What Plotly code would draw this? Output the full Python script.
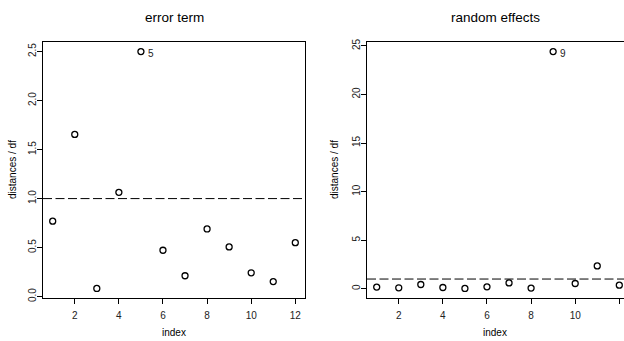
import plotly.graph_objects as go

# Scaled distances per observation index
index = list(range(1, 13))
error_term = [0.77, 1.655, 0.083, 1.064, 2.50, 0.473, 0.213, 0.69, 0.507, 0.243, 0.153, 0.55]
random_effects = [0.17, 0.10, 0.44, 0.13, 0.03, 0.20, 0.60, 0.07, 24.42, 0.54, 2.35, 0.37]
cutoff = 1.0
left_yticks = [0.0, 0.5, 1.0, 1.5, 2.0, 2.5]
right_yticks = [0, 5, 10, 15, 20, 25]
xticks = [2, 4, 6, 8, 10, 12]

W, H = 624, 341
FONT = "Liberation Sans, Arial, Helvetica, sans-serif"


def padded(vals, frac=0.04):
    lo, hi = min(vals), max(vals)
    d = (hi - lo) * frac
    return [lo - d, hi + d]


xr = padded(index)
# pixel boxes of the two panels
left_box = (43, 305)
right_box_left = 367
px_per_unit = (left_box[1] - left_box[0]) / (xr[1] - xr[0])
right_x_hi = xr[0] + (W - right_box_left) / px_per_unit

y_dom = [1 - 301 / H, 1 - 39 / H]

fig = go.Figure()

marker = dict(symbol="circle-open", size=6, color="black", line=dict(width=1.3, color="black"))

fig.add_trace(go.Scatter(x=index, y=error_term, mode="markers", marker=marker,
                         xaxis="x", yaxis="y", showlegend=False, hoverinfo="x+y"))
fig.add_trace(go.Scatter(x=index, y=random_effects, mode="markers", marker=marker,
                         xaxis="x2", yaxis="y2", showlegend=False, hoverinfo="x+y"))

# dashed reference lines at the cutoff
for xref, yref, x1 in (("x", "y", xr[1]), ("x2", "y2", right_x_hi)):
    fig.add_shape(type="line", xref=xref, yref=yref, x0=xr[0], x1=x1, y0=cutoff, y1=cutoff,
                  line=dict(color="black", width=1, dash="9px,3.5px"), layer="below")

axis_common = dict(showgrid=False, zeroline=False, showline=True, linecolor="black", linewidth=1,
                   ticks="outside", ticklen=5, tickwidth=1, tickcolor="black",
                   tickfont=dict(family=FONT, size=10, color="#222"))

fig.update_layout(
    width=W, height=H,
    margin=dict(l=0, r=0, t=0, b=0),
    paper_bgcolor="white", plot_bgcolor="white",
    font=dict(family=FONT, color="black"),
    xaxis=dict(domain=[left_box[0] / W, left_box[1] / W], range=xr, anchor="y",
               tickvals=xticks, mirror=True, ticklabelstandoff=3, **axis_common),
    yaxis=dict(domain=y_dom, range=padded(error_term), anchor="x",
               tickvals=left_yticks, tickformat=".1f", tickangle=-90, mirror=True,
               ticklabelstandoff=-3, **axis_common),
    xaxis2=dict(domain=[right_box_left / W, 1.0], range=[xr[0], right_x_hi], anchor="y2",
                tickvals=xticks, mirror=True, ticklabelstandoff=3, **axis_common),
    yaxis2=dict(domain=y_dom, range=padded(random_effects), anchor="x2",
                tickvals=right_yticks, tickangle=-90, mirror=False,
                ticklabelstandoff=-3, **axis_common),
)

# labels for the largest distance in each panel
for xa, ya, vals in (("x", "y", error_term), ("x2", "y2", random_effects)):
    k = max(range(len(vals)), key=lambda i: vals[i])
    fig.add_annotation(x=index[k], y=vals[k], xref=xa, yref=ya, text=str(index[k]),
                       showarrow=False, xanchor="left", yanchor="middle", xshift=5, yshift=-2,
                       font=dict(family=FONT, size=10, color="#222"))

# panel titles and axis titles
def text(x, y, s, size, angle=0):
    fig.add_annotation(x=x / W, y=1 - y / H, xref="paper", yref="paper", text=s,
                       showarrow=False, xanchor="center", yanchor="middle", textangle=angle,
                       font=dict(family=FONT, size=size, color="black"))

text(174, 14, "error term", 13.5)
text(495, 14, "random effects", 13.5)
text(174, 336, "index", 10)
text(495, 336, "index", 10)
text(12, 170, "distances / df", 10, angle=-90)
text(334, 170, "distances / df", 10, angle=-90)

fig.write_html("out.html")
